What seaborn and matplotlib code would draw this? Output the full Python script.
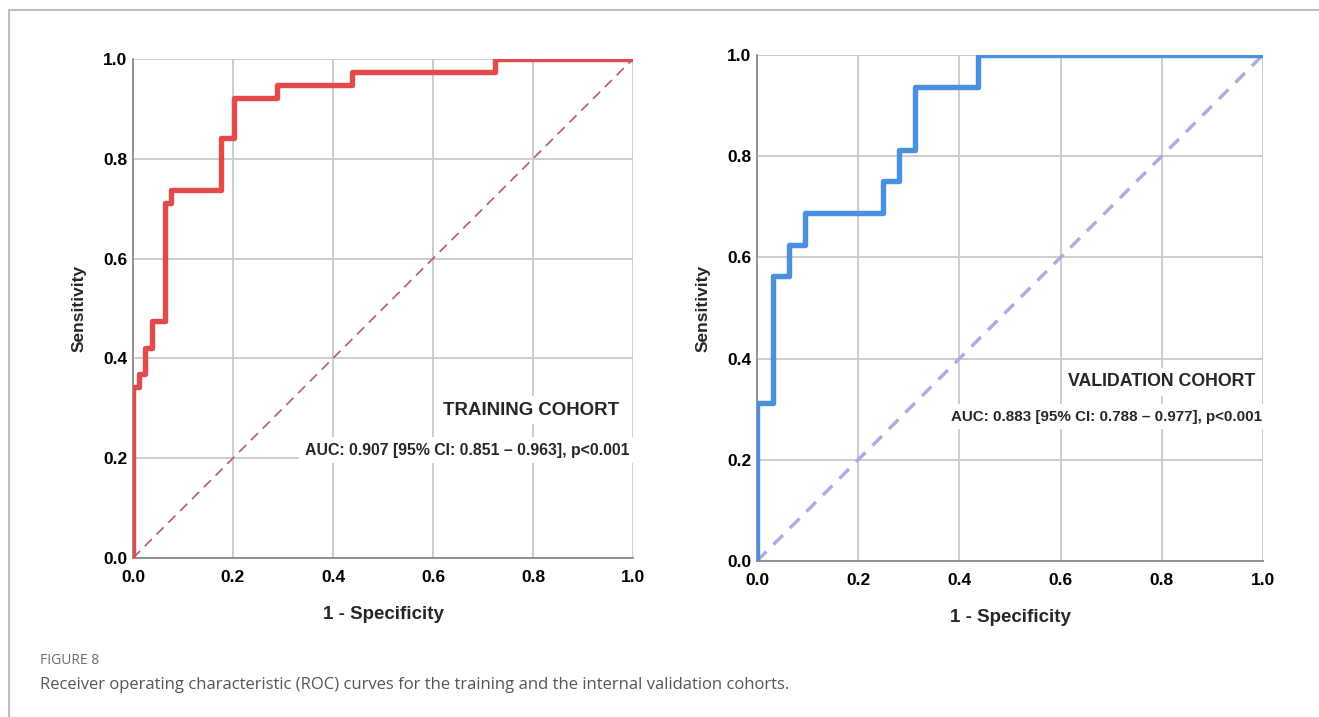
import matplotlib
matplotlib.use('Agg')
import matplotlib.pyplot as plt
import seaborn as sns
import pandas as pd

# ROC corner points, drawn with steps-pre
train_fpr = [0.0, 0.013, 0.025, 0.039, 0.065, 0.077, 0.177, 0.202, 0.289, 0.439, 0.725, 1.0]
train_tpr = [0.0, 0.342, 0.368, 0.421, 0.474, 0.711, 0.737, 0.842, 0.921, 0.947, 0.974, 1.0]

valid_fpr = [0.0, 0.031, 0.0625, 0.094, 0.25, 0.281, 0.3125, 0.4375, 1.0]
valid_tpr = [0.0, 0.3125, 0.5625, 0.625, 0.6875, 0.75, 0.8125, 0.9375, 1.0]

ref_line = [0.0, 1.0]
ticks = [0.0, 0.2, 0.4, 0.6, 0.8, 1.0]
tick_labels = ['0.0', '0.2', '0.4', '0.6', '0.8', '1.0']

cohort_titles = ['TRAINING COHORT', 'VALIDATION COHORT']
auc_texts = ['AUC: 0.907 [95% CI: 0.851 \u2013 0.963], p<0.001',
             'AUC: 0.883 [95% CI: 0.788 \u2013 0.977], p<0.001']

sns.set_theme(style='whitegrid')
plt.rcParams['font.family'] = ['Liberation Sans', 'DejaVu Sans']

fig = plt.figure(figsize=(13.19, 7.17), dpi=100)
ax1 = fig.add_axes([0.1008, 0.2218, 0.3791, 0.696])
ax2 = fig.add_axes([0.5739, 0.2176, 0.3836, 0.7057])


def draw_panel(ax, fpr, tpr, color, diag_color, diag_lw, diag_dash, title, auc,
               title_pos, auc_pos, title_size, auc_size):
    df = pd.DataFrame({'fpr': fpr, 'tpr': tpr})
    sns.lineplot(data=df, x='fpr', y='tpr', ax=ax, color=color, linewidth=3.9,
                 drawstyle='steps-pre', zorder=4)
    ax.plot(ref_line, ref_line, color=diag_color, linewidth=diag_lw,
            dashes=diag_dash, zorder=3)
    ax.set_xlim(0, 1)
    ax.set_ylim(0, 1)
    ax.set_xticks(ticks)
    ax.set_yticks(ticks)
    ax.set_xticklabels(tick_labels, fontsize=12.5, fontweight='bold')
    ax.set_yticklabels(tick_labels, fontsize=12.5, fontweight='bold')
    ax.tick_params(axis='x', length=0, pad=9, colors='black')
    ax.tick_params(axis='y', length=0, pad=4, colors='black')
    ax.set_xlabel('1 - Specificity', fontsize=13.5, fontweight='bold', labelpad=15)
    ax.set_ylabel('Sensitivity', fontsize=12.5, fontweight='bold', labelpad=12)
    ax.grid(True, color='#c9c9c9', linewidth=1.3)
    ax.set_facecolor('white')
    for side in ['top', 'right']:
        ax.spines[side].set_visible(False)
    for side in ['left', 'bottom']:
        ax.spines[side].set_color('#8a8a8a')
        ax.spines[side].set_linewidth(1.3)
    ax.text(title_pos[0], title_pos[1], title, ha='right', va='center', fontsize=title_size,
            fontweight='bold', zorder=5,
            bbox=dict(facecolor='white', edgecolor='none', pad=4))
    ax.text(auc_pos[0], auc_pos[1], auc, ha='right', va='center', fontsize=auc_size,
            fontweight='bold', zorder=5,
            bbox=dict(facecolor='white', edgecolor='none', pad=4))


draw_panel(ax1, train_fpr, train_tpr, '#e34a4c', '#b4587c', 1.2, (6, 4),
           cohort_titles[0], auc_texts[0], (0.972, 0.296), (0.993, 0.216), 13.4, 11.4)
draw_panel(ax2, valid_fpr, valid_tpr, '#4a8fe0', '#a9aae6', 2.4, (4, 3),
           cohort_titles[1], auc_texts[1], (0.986, 0.354), (0.998, 0.285), 12.8, 10.9)

# outer frame lines (top and left)
fig.add_artist(plt.Line2D([9 / 1319, 1.0], [1 - 10 / 717, 1 - 10 / 717],
                          transform=fig.transFigure, color='#bdbdbd', linewidth=1.5))
fig.add_artist(plt.Line2D([9 / 1319, 9 / 1319], [0.0, 1 - 10 / 717],
                          transform=fig.transFigure, color='#bdbdbd', linewidth=1.5))

fig.text(40 / 1319, 1 - 660 / 717, 'FIGURE 8', fontsize=10, color='#6b6b6b',
         family=['Open Sans', 'DejaVu Sans'], va='center')
fig.text(40 / 1319, 1 - 685 / 717,
         'Receiver operating characteristic (ROC) curves for the training and the internal validation cohorts.',
         fontsize=12, color='#555555', family=['Open Sans', 'DejaVu Sans'], va='center')

fig.savefig('out.png', dpi=100, facecolor='white')
